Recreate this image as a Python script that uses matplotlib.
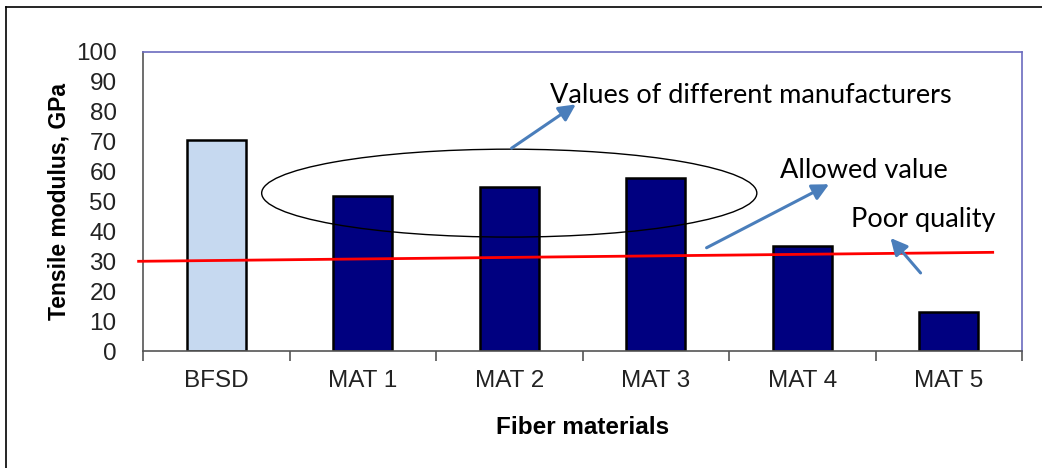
import matplotlib
matplotlib.use("Agg")
import matplotlib.pyplot as plt
from matplotlib.patches import Ellipse
from matplotlib.lines import Line2D

categories = ["BFSD", "MAT 1", "MAT 2", "MAT 3", "MAT 4", "MAT 5"]
values = [70.5, 52, 55, 58, 35, 13]
bar_colors = ["#c6d9f0", "#000080", "#000080", "#000080", "#000080", "#000080"]
allowed_x = [-0.53, 5.3]
allowed_y = [30, 33]
yticks = list(range(0, 101, 10))

plt.rcParams['font.family'] = ['Liberation Sans', 'DejaVu Sans']
fig = plt.figure(figsize=(10.42, 4.68), dpi=100)
ax = fig.add_axes([143/1042, 1-351/468, (1022-143)/1042, (351-52)/468])

x = list(range(len(categories)))
ax.bar(x, values, width=0.4, color=bar_colors, edgecolor="black", linewidth=1.8, zorder=2)
ax.set_xlim(-0.5, 5.5)
ax.set_ylim(0, 100)
ax.set_yticks(yticks)
ax.set_yticklabels([str(t) for t in yticks], fontsize=17.5, color="#222222")
ax.tick_params(axis='y', length=0, pad=19)
ax.set_xticks(x)
ax.set_xticklabels(categories, fontsize=17.5, color="#222222")
ax.tick_params(axis='x', length=0, pad=14)
ax.set_xticks([i + 0.5 for i in range(-1, 6)], minor=True)
ax.tick_params(axis='x', which='minor', length=7, width=1.2, color="#555555")
for s in ['left', 'bottom']:
    ax.spines[s].set_color("#555555")
    ax.spines[s].set_linewidth(1.2)
for s in ['top', 'right']:
    ax.spines[s].set_color("#6b6bbf")
    ax.spines[s].set_linewidth(1.2)

ax.set_ylabel("Tensile modulus, GPa", fontsize=16.5, fontweight='bold')
ax.yaxis.set_label_coords(-0.083, 0.5)
ax.set_xlabel("Fiber materials", fontsize=17.5, fontweight='bold', labelpad=17)

# red allowed line
ax.plot(allowed_x, allowed_y, color="red", linewidth=2, zorder=3, clip_on=False)

# ellipse
ax.add_patch(Ellipse((2.0, 52.8), 3.38, 29.4, fill=False, edgecolor="black", linewidth=1.0, zorder=4))

cal = ['Lato', 'DejaVu Sans']
arrow_kw = dict(arrowstyle="-|>,head_length=1.0,head_width=0.5", color="#4a7ebb", lw=2.2)
ax.annotate("", xy=(2.47, 83.0), xytext=(2.0, 67.3), arrowprops=arrow_kw, zorder=5)
ax.annotate("", xy=(4.2, 56.2), xytext=(3.33, 34.1), arrowprops=arrow_kw, zorder=5)
ax.annotate("", xy=(4.59, 38.5), xytext=(4.82, 25.4), arrowprops=arrow_kw, zorder=5)

ax.text(2.278, 85.3, "Values of different manufacturers", fontsize=19.5, family=cal, va='center', ha='left')
ax.text(3.848, 60.5, "Allowed value", fontsize=19.5, family=cal, va='center', ha='left')
ax.text(4.33, 44, "Poor quality", fontsize=19.5, family=cal, va='center', ha='left')

# outer frame lines
fig.add_artist(Line2D([6/1042, 1.0], [1-7/468, 1-7/468], color="black", lw=1.2))
fig.add_artist(Line2D([6/1042, 6/1042], [0, 1-7/468], color="black", lw=1.2))

fig.savefig("out.png", dpi=100)
